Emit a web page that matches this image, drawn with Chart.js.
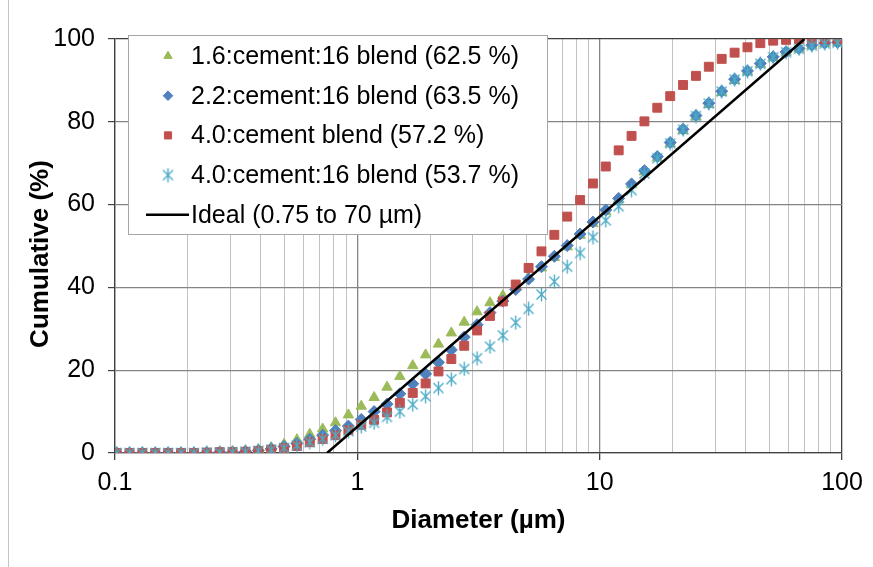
<!DOCTYPE html>
<html>
<head>
<meta charset="utf-8">
<script src="https://cdn.jsdelivr.net/npm/chart.js@4.4.0/dist/chart.umd.min.js"></script>
<style>
  html, body { margin: 0; padding: 0; background: #fff; }
  #wrap { width: 873px; height: 567px; position: relative; }
  canvas { display: block; }
</style>
</head>
<body>
<div id="wrap"><canvas id="chart" width="873" height="567"></canvas></div>
<script>
// Particle size classes (µm)
const diameters = [0.1016, 0.1148, 0.1297, 0.1466, 0.1657, 0.1873, 0.2117, 0.2392, 0.2704, 0.3055,
  0.3453, 0.3902, 0.4409, 0.4983, 0.5631, 0.6364, 0.7192, 0.8127, 0.9185, 1.038,
  1.173, 1.326, 1.498, 1.693, 1.913, 2.162, 2.443, 2.761, 3.120, 3.527,
  3.985, 4.504, 5.090, 5.752, 6.501, 7.346, 8.303, 9.383, 10.60, 11.98,
  13.54, 15.30, 17.29, 19.55, 22.09, 24.97, 28.21, 31.88, 36.04, 40.73,
  46.03, 52.00, 58.77, 66.43, 75.07, 84.84, 95.85];

// Cumulative passing (%) for each blend
const blend16 = [0, 0, 0, 0, 0, 0, 0, 0.1, 0.2, 0.3,
  0.5, 0.8, 1.3, 2.1, 3.2, 4.5, 5.8, 7.3, 9.2, 11.3,
  13.4, 15.9, 18.5, 21.1, 23.7, 26.3, 29.0, 31.6, 34.1, 36.3,
  38.0, 40.0, 42.3, 44.7, 47.2, 49.8, 52.6, 55.4, 58.3, 61.2,
  64.8, 67.9, 71.3, 74.7, 77.9, 81.2, 84.2, 87.1, 90.0, 92.1,
  93.9, 95.5, 96.8, 97.6, 98.4, 98.9, 99.1];

const blend22 = [0, 0, 0, 0, 0, 0, 0, 0.1, 0.2, 0.2,
  0.4, 0.6, 1.0, 1.6, 2.3, 3.3, 4.3, 5.4, 6.5, 8.1,
  10.0, 11.8, 14.3, 16.7, 19.1, 21.9, 24.9, 28.0, 31.0, 33.9,
  36.7, 39.5, 42.0, 45.0, 47.5, 50.1, 52.9, 55.8, 58.7, 61.5,
  65.0, 68.2, 71.6, 75.0, 78.2, 81.5, 84.5, 87.4, 90.3, 92.3,
  94.1, 95.7, 96.9, 97.7, 98.5, 99.0, 99.2];

const blend40cement = [0, 0, 0, 0, 0, 0, 0, 0.1, 0.2, 0.2,
  0.3, 0.5, 0.8, 1.2, 1.7, 2.6, 3.4, 4.3, 5.5, 6.8,
  8.0, 9.8, 12.1, 14.5, 16.8, 19.7, 22.7, 25.9, 29.6, 33.1,
  36.6, 40.7, 44.7, 48.7, 52.7, 57.1, 61.1, 65.1, 69.2, 73.1,
  76.6, 80.1, 83.4, 86.2, 88.9, 91.1, 93.3, 95.2, 96.7, 98.0,
  99.0, 99.6, 99.8, 100, 100, 100, 100];

const blend40 = [0, 0, 0, 0, 0, 0, 0, 0.1, 0.1, 0.2,
  0.3, 0.5, 0.8, 1.2, 1.8, 2.6, 3.4, 4.3, 5.3, 6.4,
  7.3, 8.7, 10.0, 11.7, 13.7, 15.7, 17.8, 20.3, 22.9, 25.7,
  28.4, 31.5, 34.8, 38.3, 41.4, 45.0, 48.3, 52.1, 56.2, 59.6,
  63.5, 67.5, 71.2, 74.8, 78.1, 81.4, 84.4, 87.3, 90.2, 92.2,
  94.0, 95.6, 96.8, 97.6, 98.4, 98.9, 99.1];

// Ideal packing line end points
const idealDiameters = [0.75, 70];
const idealCumulative = [0, 100];

const seriesLabels = [
  '1.6:cement:16 blend (62.5 %)',
  '2.2:cement:16 blend (63.5 %)',
  '4.0:cement blend (57.2 %)',
  '4.0:cement:16 blend (53.7 %)',
  'Ideal (0.75 to 70 µm)'
];

const xMajorTicks = [0.1, 1, 10, 100];
const yTicks = [0, 20, 40, 60, 80, 100];
const yTitle = 'Cumulative (%)';
const xTitle = 'Diameter (µm)';

const FONT = '"Liberation Sans", Arial, sans-serif';

// x gridlines: every integer multiple inside each decade
const xGrid = [];
for (let p = -1; p <= 1; p++) {
  for (let m = 1; m <= 9; m++) xGrid.push(+(m * Math.pow(10, p)).toPrecision(3));
}
xGrid.push(100);
const isMajor = v => xMajorTicks.some(t => Math.abs(t - v) < 1e-9);

// Asterisk marker (vertical stroke with a cross)
function asteriskMarker(color) {
  const c = document.createElement('canvas');
  c.width = 13; c.height = 15;
  const g = c.getContext('2d');
  g.strokeStyle = color;
  g.lineWidth = 1.4;
  g.beginPath();
  g.moveTo(6.5, 0.5); g.lineTo(6.5, 14.5);
  g.moveTo(1.5, 2.5); g.lineTo(11.5, 12.5);
  g.moveTo(11.5, 2.5); g.lineTo(1.5, 12.5);
  g.stroke();
  return c;
}

const toPoints = (xs, ys) => xs.map((x, i) => ({ x, y: ys[i] }));

const datasets = [
  {
    label: seriesLabels[0], data: toPoints(diameters, blend16), order: 4,
    showLine: false, pointStyle: 'triangle', pointRadius: 6,
    pointBackgroundColor: '#9BBB59', pointBorderColor: '#9BBB59', pointBorderWidth: 1
  },
  {
    label: seriesLabels[1], data: toPoints(diameters, blend22), order: 3,
    showLine: false, pointStyle: 'rectRot', pointRadius: 6,
    pointBackgroundColor: '#4F81BD', pointBorderColor: '#4F81BD', pointBorderWidth: 1
  },
  {
    label: seriesLabels[2], data: toPoints(diameters, blend40cement), order: 2,
    showLine: false, pointStyle: 'rect', pointRadius: 6.3,
    pointBackgroundColor: '#C0504D', pointBorderColor: '#C0504D', pointBorderWidth: 1
  },
  {
    label: seriesLabels[3], data: toPoints(diameters, blend40), order: 1,
    showLine: false, pointStyle: asteriskMarker('#4BACC6'), pointRadius: 6,
    pointBackgroundColor: '#4BACC6', pointBorderColor: '#4BACC6', pointBorderWidth: 1
  },
  {
    label: seriesLabels[4], data: toPoints(idealDiameters, idealCumulative), order: 0,
    showLine: true, borderColor: '#000', borderWidth: 2.5, pointRadius: 0,
    isLine: true
  }
];

// White page, thin frame line down the left side, and the vertical axis title
const pageFrame = {
  id: 'pageFrame',
  beforeDraw(chart) {
    const ctx = chart.ctx;
    ctx.save();
    ctx.fillStyle = '#fff';
    ctx.fillRect(0, 0, chart.width, chart.height);
    ctx.strokeStyle = '#c4c4c4';
    ctx.lineWidth = 1;
    ctx.beginPath();
    ctx.moveTo(8.5, 0); ctx.lineTo(8.5, chart.height);
    ctx.stroke();
    ctx.translate(41, 254);
    ctx.rotate(-Math.PI / 2);
    ctx.font = 'bold 26px ' + FONT;
    ctx.textAlign = 'center';
    ctx.textBaseline = 'middle';
    ctx.fillStyle = '#000';
    ctx.fillText(yTitle, 0, 0);
    ctx.restore();
  }
};

// Boxed legend inside the plot area
const boxLegend = {
  id: 'boxLegend',
  afterDraw(chart) {
    const ctx = chart.ctx;
    const x0 = 128, y0 = 35, w = 419, h = 199;
    ctx.save();
    ctx.fillStyle = '#fff';
    ctx.fillRect(x0, y0, w, h);
    ctx.strokeStyle = '#a6a6a6';
    ctx.lineWidth = 1;
    ctx.strokeRect(x0 + 0.5, y0 + 0.5, w, h);
    ctx.font = '25px ' + FONT;
    ctx.textBaseline = 'middle';
    chart.data.datasets.forEach((ds, k) => {
      const cy = 56 + k * 39.7;
      if (ds.isLine) {
        ctx.strokeStyle = ds.borderColor;
        ctx.lineWidth = ds.borderWidth;
        ctx.beginPath();
        ctx.moveTo(146, cy); ctx.lineTo(189, cy);
        ctx.stroke();
      } else {
        ctx.fillStyle = ds.pointBackgroundColor;
        ctx.strokeStyle = ds.pointBorderColor;
        ctx.lineWidth = ds.pointBorderWidth;
        Chart.helpers.drawPoint(ctx, {
          pointStyle: ds.pointStyle, radius: ds.pointRadius * 0.8,
          rotation: 0, borderWidth: ds.pointBorderWidth
        }, 168, cy);
      }
      ctx.fillStyle = '#000';
      ctx.fillText(ds.label, 191, cy + 1);
    });
    ctx.restore();
  }
};

new Chart(document.getElementById('chart'), {
  type: 'scatter',
  data: { datasets },
  plugins: [pageFrame, boxLegend],
  options: {
    responsive: false,
    animation: false,
    devicePixelRatio: 1,
    layout: { padding: { top: 39, right: 31, left: 0, bottom: 0 } },
    plugins: { legend: { display: false }, tooltip: { enabled: false } },
    scales: {
      x: {
        type: 'logarithmic',
        min: 0.1, max: 100,
        afterBuildTicks: s => { s.ticks = xGrid.map(v => ({ value: v, major: isMajor(v) })); },
        afterFit: s => { s.height = 114; },
        ticks: {
          autoSkip: false, maxRotation: 0, padding: 8,
          color: '#000', font: { family: FONT, size: 25 },
          callback: v => isMajor(v) ? String(v) : ''
        },
        grid: {
          color: c => {
            const v = c.tick ? c.tick.value : 0;
            if (Math.abs(v - 100) < 1e-9) return '#404040';
            return isMajor(v) ? '#858585' : '#c2c2c2';
          },
          lineWidth: c => (c.tick && isMajor(c.tick.value)) ? 1.3 : 1,
          tickColor: c => (c.tick && isMajor(c.tick.value)) ? '#404040' : 'rgba(0,0,0,0)',
          tickLength: 7
        },
        border: { color: '#404040', width: 1.3 },
        title: {
          display: true, text: xTitle, color: '#000',
          font: { family: FONT, size: 26, weight: 'bold' },
          padding: { top: 0, bottom: 31 }
        }
      },
      y: {
        min: 0, max: 100,
        afterBuildTicks: s => { s.ticks = yTicks.map(v => ({ value: v })); },
        afterFit: s => { s.width = 115; },
        ticks: {
          padding: 13, color: '#000',
          font: { family: FONT, size: 25 }
        },
        grid: {
          color: c => (c.tick && c.tick.value === 100) ? '#404040' : '#858585',
          lineWidth: 1.2,
          tickColor: '#404040',
          tickLength: 7
        },
        border: { color: '#404040', width: 1.3 },
        title: { display: false }
      }
    }
  }
});
</script>
</body>
</html>
